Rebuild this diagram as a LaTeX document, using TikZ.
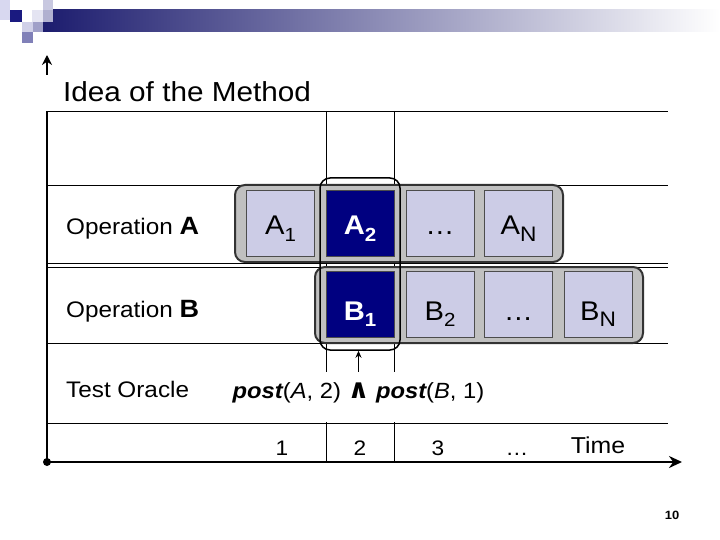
\documentclass[tikz,border=0pt]{standalone}
\usepackage{fontspec}
\setmainfont{Liberation Sans}[FakeStretch=1.08]
\newfontfamily\dejavu{DejaVu Sans}
\usetikzlibrary{arrows.meta}
\definecolor{cellc}{RGB}{204,204,230}
\definecolor{navyc}{RGB}{0,0,128}
\definecolor{groupc}{RGB}{192,192,192}
\definecolor{barnavy}{RGB}{28,28,110}
\newcommand\fs[1]{\fontsize{#1}{#1}\selectfont}
\newcommand\mysub[2]{\raisebox{-6pt}{\fs{#1}#2}}
\begin{document}
\begin{tikzpicture}[x=1pt,y=-1pt,
  cell/.style={draw=black!70, line width=0.8pt, fill=cellc, minimum width=68pt, minimum height=66pt, inner sep=0pt, font=\fs{27}, text height=23pt, text depth=0pt},
  hot/.style={cell, fill=navyc, text=white, font=\fs{27}\bfseries},
  brow/.style={text height=31pt, text depth=0pt},
  group/.style={draw=black!80, line width=2pt, fill=groupc, rounded corners=10pt, inner sep=0pt},
  gridline/.style={line width=0.8pt},
  axis/.style={line width=2.5pt},
  lbl/.style={anchor=base west, inner sep=0pt, font=\fs{22.5}},
  tick/.style={anchor=base, inner sep=0pt, font=\fs{21}}]
\useasboundingbox (0,0) rectangle (720,540);
% header decoration
\shade[left color=barnavy, right color=white] (43,10) rectangle (720,32);
\fill[color={rgb,255:red,216;green,216;blue,240}] (0,0) rectangle (10,20);
\fill[color={rgb,255:red,26;green,26;blue,128}] (10,10) rectangle (22,22);
\fill[color={rgb,255:red,200;green,200;blue,224}] (43,0) rectangle (53,10);
\fill[color={rgb,255:red,228;green,228;blue,242}] (32,10) rectangle (43,22);
\fill[color={rgb,255:red,176;green,176;blue,208}] (43,10) rectangle (53,22);
\fill[color={rgb,255:red,208;green,208;blue,232}] (22,22) rectangle (33,32);
\fill[color={rgb,255:red,160;green,160;blue,200}] (33,22) rectangle (43,32);
\fill[color={rgb,255:red,128;green,128;blue,184}] (22,32) rectangle (33,43);
% axes coordinates
\coordinate (origin) at (47,462);
\coordinate (ybase) at (47,111);
\coordinate (ytail) at (47,75);
\coordinate (ytop) at (47,55);
\coordinate (xend) at (682,462);
% grid
\draw[gridline] (326,111) -- (326,462);
\draw[gridline] (394,111) -- (394,462);
\foreach \yy in {111,185,263,267,343,423} \draw[gridline] (47,\yy) -- (668,\yy);
% oracle text (white background hides grid lines)
\node[fill=white, inner xsep=2pt, inner ysep=0pt, text height=26pt, text depth=24pt, anchor=base, font=\fs{22}] (post) at (358.5,398)
  {{\bfseries\itshape post}(\textit{A}, 2) {\dejavu\bfseries\fs{27}∧} {\bfseries\itshape post}(\textit{B}, 1)};
% groups
\node[group, minimum width=328pt, minimum height=77pt] (ga) at (399,223.5) {};
\node[group, minimum width=328pt, minimum height=76pt] (gb) at (479,305) {};
% cells A
\node[cell] (a1) at (280.5,223.5) {A\mysub{19}{1}};
\node[hot]  (a2) at (360,223.5) {A\mysub{19}{2}};
\node[cell] (ad) at (440,223.5) {…};
\node[cell] (an) at (518.5,223.5) {A\mysub{21}{N}};
% cells B
\node[hot, brow]  (b1) at (360,304.5) {B\mysub{19}{1}};
\node[cell, brow] (b2) at (440,304.5) {B\mysub{19}{2}};
\node[cell, brow] (bd) at (518.5,304.5) {…};
\node[cell, brow] (bn) at (598,304.5) {B\mysub{21}{N}};
% highlight of column 2
\node[draw, line width=1.5pt, rounded corners=10pt, minimum width=80pt, minimum height=172pt, inner sep=0pt] (hl) at (360,264) {};
\draw[-{Stealth[length=7pt,width=6pt]}, line width=1pt] (post.north) -- (post.north |- hl.south);
% axes
\draw[axis] (origin) -- (ybase);
\draw[-{Stealth[length=10pt,width=10pt]}, line width=2pt] (ytail) -- (ytop);
\draw[axis, -{Stealth[length=13pt,width=12pt]}] (origin) -- (xend);
\fill (origin) circle (4pt);
% texts
\node[anchor=base west, inner sep=0pt, font=\fs{27.5}] (title) at (63,102) {Idea of the Method};
\node[lbl] (opa) at (66,235) {Operation {\fs{25}\bfseries A}};
\node[lbl] (opb) at (66,317) {Operation {\fs{25}\bfseries B}};
\node[lbl] (tor) at (66,397) {Test Oracle};
\node[tick] (t1) at (282,455) {1};
\node[tick] (t2) at (360,455) {2};
\node[tick] (t3) at (438,455) {3};
\node[tick] (td) at (517,455) {…};
\node[tick, font=\fs{23}] (tt) at (598,453) {Time};
\node[font=\fs{12}\bfseries, inner sep=0pt] (pg) at (672,515) {10};
\end{tikzpicture}
\end{document}
